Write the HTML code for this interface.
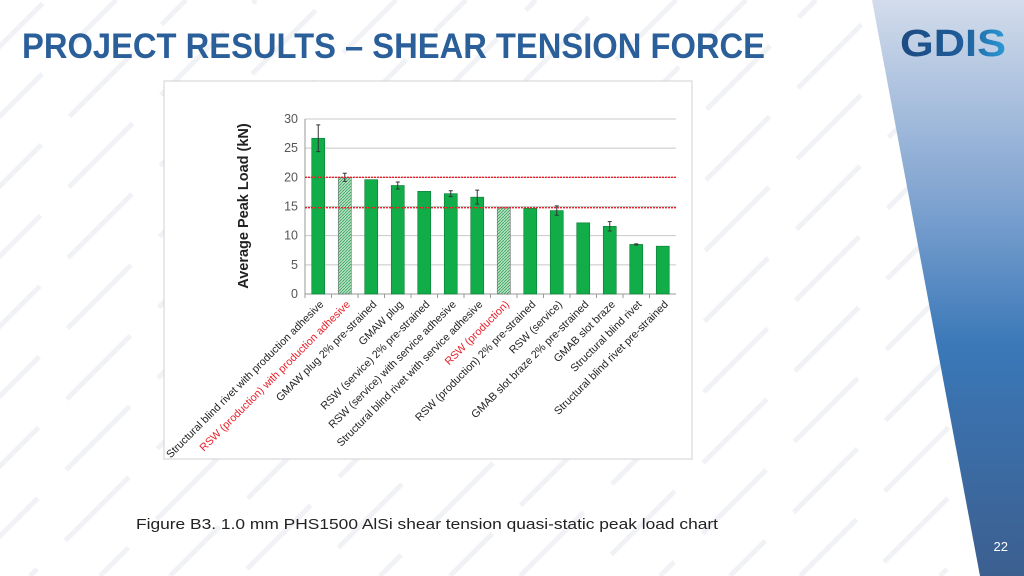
<!DOCTYPE html>
<html><head><meta charset="utf-8"><style>
html,body{margin:0;padding:0;background:#fff;width:1024px;height:576px;overflow:hidden}
svg{display:block;font-family:"Liberation Sans",sans-serif}
</style></head><body>
<svg id="s" width="1024" height="576" viewBox="0 0 1024 576">
<defs>
<linearGradient id="pg" x1="0" y1="0" x2="0" y2="1">
<stop offset="0" stop-color="#d3dceb"/><stop offset="0.35" stop-color="#7fa3d0"/><stop offset="0.6" stop-color="#3a78b8"/><stop offset="1" stop-color="#3c5f8f"/>
</linearGradient>
<pattern id="hatch" width="3" height="3" patternUnits="userSpaceOnUse">
<rect width="3" height="3" fill="#b5e3c4"/><path d="M0,3 L3,0" stroke="#3aa05a" stroke-width="0.8"/>
</pattern>
<linearGradient id="lg" x1="0" y1="0" x2="1" y2="0"><stop offset="0" stop-color="#1d4a82"/><stop offset="0.6" stop-color="#1f5d9a"/><stop offset="1" stop-color="#2a9ad6"/></linearGradient>
</defs>
<g id="stripes" stroke="#f0f2f6" stroke-width="5" stroke-dasharray="90,40"></g>
<polygon points="872,0 1024,0 1024,576 980,576" fill="url(#pg)"/>
<text x="900" y="56" font-size="38" font-weight="bold" fill="url(#lg)" textLength="106" lengthAdjust="spacingAndGlyphs">GDIS</text>
<text x="22" y="58" font-size="35" font-weight="bold" fill="#2b5f9a" textLength="743" lengthAdjust="spacingAndGlyphs">PROJECT RESULTS – SHEAR TENSION FORCE</text>
<text x="1008" y="551" font-size="13" fill="#fff" text-anchor="end">22</text>
<rect x="164" y="81" width="528" height="378" fill="#fff" stroke="#d0d0d0"/>
<g id="chart"></g>
<text x="136" y="529" font-size="14.5" fill="#222" textLength="582" lengthAdjust="spacingAndGlyphs">Figure B3. 1.0 mm PHS1500 AlSi shear tension quasi-static peak load chart</text>
</svg>
<script>
const categories=["Structural blind rivet with production adhesive","RSW (production) with production adhesive","GMAW plug 2% pre-strained","GMAW plug","RSW (service) 2% pre-strained","RSW (service) with service adhesive","Structural blind rivet with service adhesive","RSW (production)","RSW (production) 2% pre-strained","RSW  (service)","GMAB slot braze 2% pre-strained","GMAB slot braze","Structural blind rivet","Structural blind rivet  pre-strained"];
const values=[26.7,20.0,19.6,18.6,17.6,17.2,16.6,14.8,14.7,14.3,12.2,11.6,8.5,8.2];
const errors=[2.3,0.7,0,0.6,0,0.5,1.2,0,0,0.8,0,0.8,0.1,0];
const highlighted=[false,true,false,false,false,false,false,true,false,false,false,false,false,false];
const yTicks=[0,5,10,15,20,25,30];
const refLines=[20,14.8];
const NS="http://www.w3.org/2000/svg";
const X0=305,X1=676,Y0=294,Y1=119,YMAX=30;
const y=v=>Y0-(v/YMAX)*(Y0-Y1);
const bw=(X1-X0)/categories.length;
const x=i=>X0+bw*(i+0.5);
const g=document.getElementById('chart');
function mk(t,a,p){const e=document.createElementNS(NS,t);for(const k in a)e.setAttribute(k,a[k]);(p||g).appendChild(e);return e;}
const sg=document.getElementById('stripes');
for(let k=-600;k<1100;k+=70){const l=mk('line',{x1:k,y1:576,x2:k+576,y2:0,'stroke-dashoffset':(k*7)%130},sg);}
yTicks.forEach(t=>{
 const l=mk('line',{x1:X0,x2:X1,y1:y(t),y2:y(t),stroke:'#c8c8c8','stroke-width':1});
 
 
 const tx=mk('text',{x:X0-7,y:y(t)+4,'font-size':12.5,fill:'#555','text-anchor':'end'});
 tx.textContent=t;
 
 
});
const ax=mk('line',{x1:X0,x2:X0,y1:Y1,y2:Y0,stroke:'#999'});


const xa=mk('line',{x1:X0,x2:X1,y1:Y0,y2:Y0,stroke:'#999'});


const yt=mk('text',{x:0,y:0,'font-size':14.5,'font-weight':'bold',fill:'#222','text-anchor':'middle',transform:'translate(248,206) rotate(-90)'});
yt.textContent='Average Peak Load (kN)';


categories.forEach((c,i)=>{
 const cx=x(i),w=13;
 const b=mk('rect',{x:cx-w/2,y:y(values[i]),width:w,height:Y0-y(values[i]),fill:highlighted[i]?'url(#hatch)':'#10ad48',stroke:highlighted[i]?'#666':'#0b7a33','stroke-width':0.6});
 
 
 if(errors[i]>0){
  const e=mk('path',{d:`M${cx},${y(values[i]+errors[i])}V${y(values[i]-errors[i])}M${cx-2},${y(values[i]+errors[i])}h4M${cx-2},${y(values[i]-errors[i])}h4`,stroke:'#333','stroke-width':1,fill:'none'});
  
  
 }
 const tk=mk('line',{x1:X0+bw*i,x2:X0+bw*i,y1:Y0,y2:Y0+4,stroke:'#999'});
 
 
 const t=mk('text',{x:0,y:0,'font-size':10.8,fill:highlighted[i]?'#e8202a':'#222','text-anchor':'end',transform:`translate(${cx+6},${Y0+11}) rotate(-45)`});
 t.textContent=c;
 
 
});
refLines.forEach(v=>{
 const l=mk('line',{x1:X0,x2:X1,y1:y(v),y2:y(v),stroke:'#e8202a','stroke-width':1.3,'stroke-dasharray':'2,1'});
 
 
});
</script>
</body></html>
